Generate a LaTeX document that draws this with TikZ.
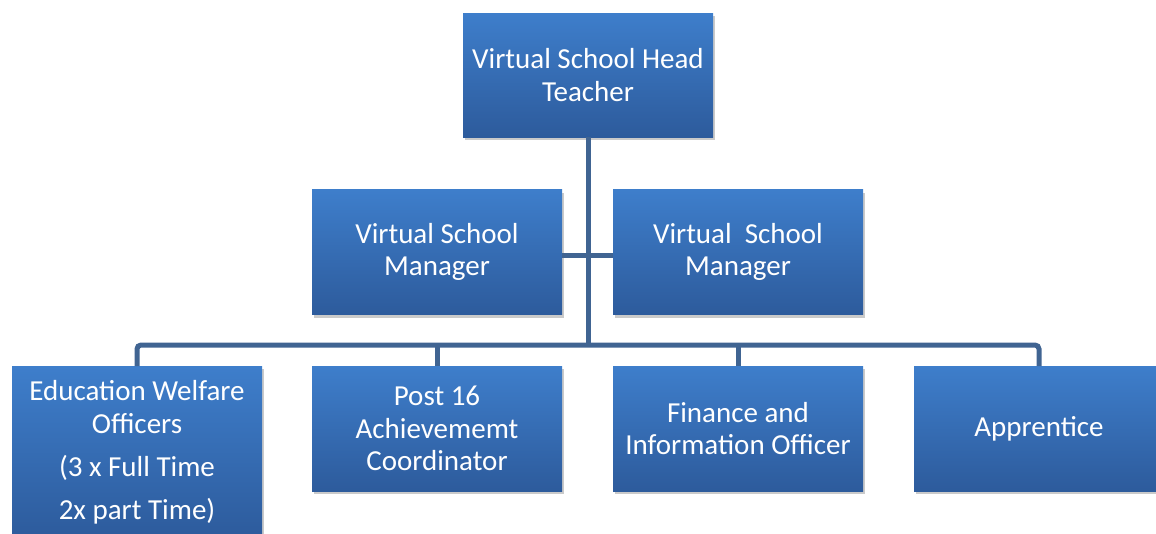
\documentclass[tikz,border=0pt]{standalone}
\usepackage{fontspec}
\setmainfont{Carlito}
\usetikzlibrary{shadows}
\definecolor{boxtop}{RGB}{62,126,203}
\definecolor{boxbot}{RGB}{45,91,156}
\definecolor{linkcol}{RGB}{64,100,146}
\tikzset{
  role/.style={rectangle, minimum width=250pt, minimum height=125pt,
    top color=boxtop, bottom color=boxbot, draw=none,
    drop shadow={shadow xshift=1.5pt, shadow yshift=-3pt, opacity=0.35, fill=black!60},
    text=white, align=center, inner sep=0pt,
    font=\fontsize{29}{32.5}\selectfont},
  link/.style={draw=linkcol, line width=5pt}
}
\begin{document}
\begin{tikzpicture}[x=1pt, y=-1pt]
\useasboundingbox (0,0) rectangle (1156,533);
% reporting lines meet on this bus point
\coordinate (bus) at (588,345);
\node[role, minimum height=124pt] (head) at (588,75) {Virtual School Head\\Teacher};
\node[role] (vsm1) at (437,252) {Virtual School\\Manager};
\node[role] (vsm2) at (738,252) {Virtual\ \ School\\Manager};
\node[role, minimum height=172pt, anchor=north] (ewo) at (137,366)
  {Education Welfare\\Officers\\[11pt](3 x Full Time\\[10pt]2x part Time)};
\node[role, anchor=north] (post) at (437,366) {Post 16\\Achievememt\\Coordinator};
\node[role, anchor=north] (fin) at (738,366) {Finance and\\Information Officer};
\node[role, anchor=north] (app) at (1039,366) {Apprentice};
\draw[link] (head.south) -- (bus);
\draw[link] ([yshift=-3pt]vsm1.east) -- ([yshift=-3pt]vsm2.west);
\draw[link, rounded corners=4pt] (ewo.north) |- (bus) -| (app.north);
\draw[link] (post.north) -- (post.north |- bus);
\draw[link] (fin.north) -- (fin.north |- bus);
\end{tikzpicture}
\end{document}
